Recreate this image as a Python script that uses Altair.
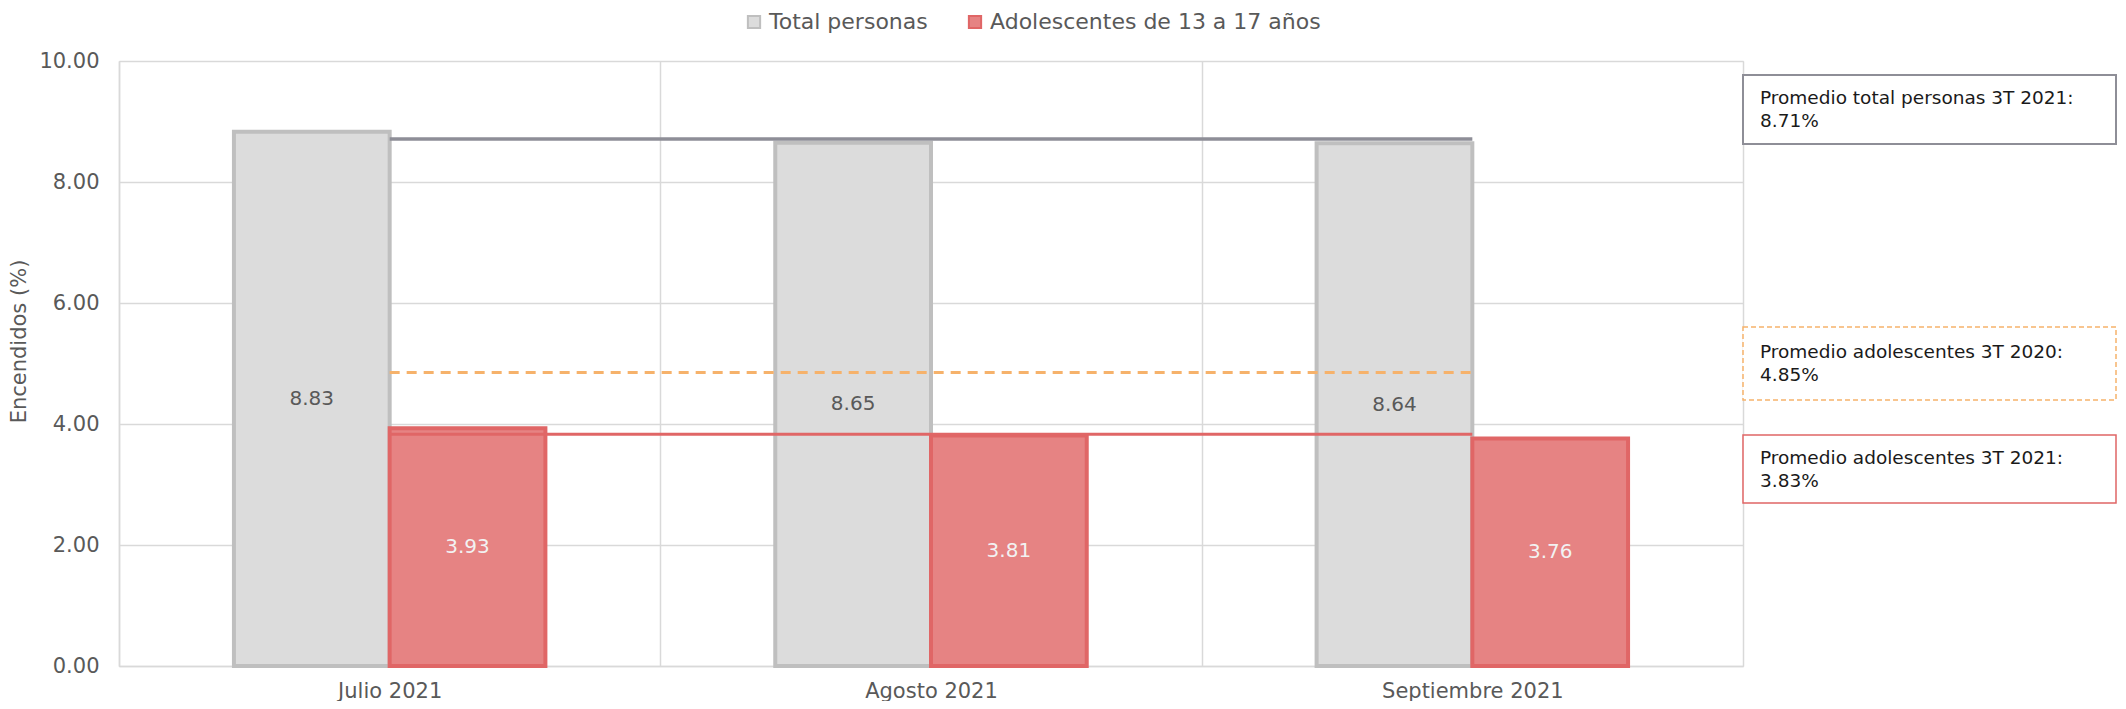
import altair as alt
import pandas as pd

FONT = "DejaVu Sans"

meses = ["Julio 2021", "Agosto 2021", "Septiembre 2021"]
series = ["Total personas", "Adolescentes de 13 a 17 años"]
total_personas = [8.83, 8.65, 8.64]
adolescentes = [3.93, 3.81, 3.76]
prom_adol_2020 = 4.85

ann_labels = [
    "Promedio total personas 3T 2021:",
    "Promedio adolescentes 3T 2020:",
    "Promedio adolescentes 3T 2021:",
]

prom_total = round(sum(total_personas) / len(total_personas), 2)
prom_adol = round(sum(adolescentes) / len(adolescentes), 2)
ann_values = [prom_total, prom_adol_2020, prom_adol]

# ---- tables built from the arrays ----
bars_df = pd.DataFrame(
    [{"mes": m, "serie": series[0], "valor": v} for m, v in zip(meses, total_personas)]
    + [{"mes": m, "serie": series[1], "valor": v} for m, v in zip(meses, adolescentes)]
)
line_total_df = pd.DataFrame({"mes": meses, "valor": [prom_total] * len(meses)})
line_2020_df = pd.DataFrame({"mes": meses, "valor": [prom_adol_2020] * len(meses)})
line_adol_df = pd.DataFrame({"mes": meses, "valor": [prom_adol] * len(meses)})

W, H = 1624, 605
GRID = "#d9d9d9"
LBL = "#595959"


def x_enc():
    return alt.X(
        "mes:N", sort=meses, title=None,
        scale=alt.Scale(paddingInner=0, paddingOuter=0),
        axis=alt.Axis(labelAngle=0, labelFontSize=21, labelColor=LBL, labelFont=FONT,
                      labelPadding=14, labelLimit=0, ticks=False, tickSize=0,
                      domainColor=GRID, domainWidth=1.5, grid=True, gridColor=GRID,
                      gridWidth=1.5, tickBand="extent"),
    )


def y_enc(field):
    return alt.Y(
        f"{field}:Q", title="Encendidos (%)",
        scale=alt.Scale(domain=[0, 10], nice=False),
        axis=alt.Axis(values=[0, 2, 4, 6, 8, 10], format=".2f", labelFontSize=21,
                      labelColor=LBL, labelFont=FONT, labelPadding=20, ticks=False,
                      tickSize=0, domainColor=GRID, domainWidth=1.5, gridColor=GRID,
                      gridWidth=1.5, titleFontSize=21, titleFont=FONT,
                      titleFontWeight="normal", titleColor=LBL, titlePadding=9,
                      titleY=280),
    )


xoff = alt.XOffset("serie:N", sort=series,
                   scale=alt.Scale(paddingInner=0, paddingOuter=0.738))

legend = alt.Legend(orient="none", legendX=624, legendY=-50, direction="horizontal",
                    title=None, symbolType="square", symbolSize=150, symbolStrokeWidth=2,
                    labelFontSize=22, labelFont=FONT, labelColor=LBL, columnPadding=36,
                    labelOffset=4, padding=0, labelLimit=0)

bars = alt.Chart(bars_df).mark_bar(strokeWidth=4).encode(
    x=x_enc(), xOffset=xoff, y=y_enc("valor"),
    fill=alt.Fill("serie:N", sort=series,
                  scale=alt.Scale(domain=series, range=["#dcdcdc", "#e68383"]), legend=legend),
    stroke=alt.Stroke("serie:N", sort=series,
                      scale=alt.Scale(domain=series, range=["#bfbfbf", "#e06666"]), legend=legend),
)

line_total = alt.Chart(line_total_df).mark_line(strokeWidth=3.5, color="#8e8e97").encode(
    x=x_enc(), y=y_enc("valor"))
line_2020 = alt.Chart(line_2020_df).mark_line(strokeWidth=3, color="#f6b26b",
                                              strokeDash=[10, 7]).encode(
    x=x_enc(), y=y_enc("valor"))
line_adol = alt.Chart(line_adol_df).mark_line(strokeWidth=3, color="#e06666").encode(
    x=x_enc(), y=y_enc("valor"))

labels = alt.Chart(bars_df).transform_calculate(mid="datum.valor / 2").mark_text(
    fontSize=20, font=FONT, baseline="middle").encode(
    x=x_enc(), xOffset=xoff, y=y_enc("mid"),
    text=alt.Text("valor:Q", format=".2f"),
    color=alt.Color("serie:N", sort=series,
                    scale=alt.Scale(domain=series, range=[LBL, "#f2f2f2"]), legend=None),
)

# ---- annotation boxes at the right ----
LH = 23
box_specs = [
    dict(y=14, y2=83, stroke="#8e8e97", width=2, dash=None),
    dict(y=266, y2=339, stroke="#f6b26b", width=1.5, dash=[5, 3]),
    dict(y=374, y2=442, stroke="#e06666", width=1.5, dash=None),
]
one = pd.DataFrame({"k": [0]})
ann_layers = []
for spec, lab, val in zip(box_specs, ann_labels, ann_values):
    kw = dict(fill="white", stroke=spec["stroke"], strokeWidth=spec["width"])
    if spec["dash"]:
        kw["strokeDash"] = spec["dash"]
    ann_layers.append(alt.Chart(one).mark_rect(**kw).encode(
        x=alt.value(W), x2=alt.value(W + 373),
        y=alt.value(spec["y"]), y2=alt.value(spec["y2"])))
    ann_layers.append(alt.Chart(one).mark_text(
        align="left", baseline="middle", fontSize=18.5, font=FONT, color="#1a1a1a",
        lineBreak="\n", lineHeight=LH).encode(
        x=alt.value(W + 17), y=alt.value((spec["y"] + spec["y2"]) / 2 - LH / 2),
        text=alt.value(f"{lab}\n{val:.2f}%")))

chart = alt.layer(bars, line_total, line_2020, line_adol, labels, *ann_layers).properties(
    width=W, height=H,
    autosize=alt.AutoSizeParams(type="none"),
    padding={"left": 111, "top": 53, "right": 375, "bottom": 35},
).configure_view(stroke=None).configure(font=FONT)

chart.save("out.html", embed_options={"renderer": "svg", "actions": False})
